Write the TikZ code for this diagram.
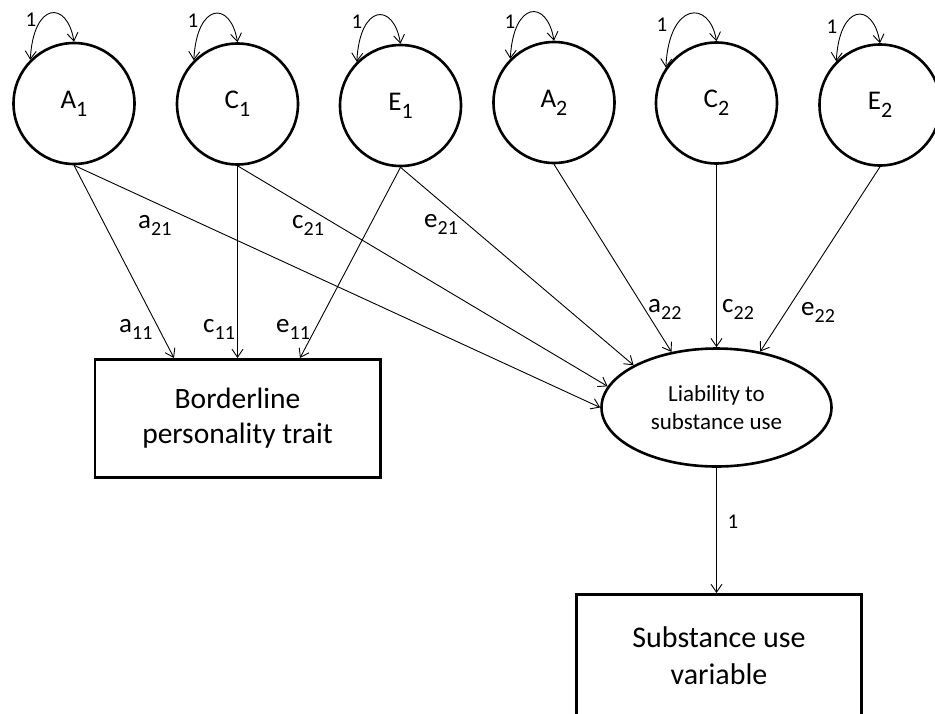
\documentclass[tikz,border=0pt]{standalone}
\usepackage{fontspec}
\setmainfont{Carlito}
\usetikzlibrary{arrows.meta,shapes.geometric}
\newcommand\latv[2]{#1\raisebox{-0.3em}{\fontsize{22}{22}\selectfont #2}}
\newcommand\pth[2]{#1\raisebox{-0.28em}{\fontsize{20}{20}\selectfont #2}}
\begin{document}
\begin{tikzpicture}[x=1pt,y=-1pt,
  latent/.style={circle,draw,line width=2.6pt,minimum size=121pt,inner sep=0pt,font=\fontsize{27}{27}\selectfont},
  obs/.style={rectangle,draw,line width=2.6pt,inner sep=0pt,align=center,minimum width=285.4pt,font=\fontsize{29.5}{35}\selectfont},
  liab/.style={ellipse,draw,line width=2.6pt,inner sep=0pt,align=center,minimum width=230pt,minimum height=118pt,font=\fontsize{23}{28}\selectfont},
  pathar/.style={-{Straight Barb[length=8pt,width=11pt]},line width=0.9pt},
  varar/.style={{Straight Barb[length=8pt,width=11pt]}-{Straight Barb[length=8pt,width=11pt]},line width=0.9pt},
  coef/.style={anchor=base west,inner sep=0pt,font=\fontsize{27}{27}\selectfont},
  one/.style={inner sep=0pt,font=\fontsize{21}{21}\selectfont}
]
\useasboundingbox (0,0) rectangle (935,713);
% latent factors
\node[latent] (A1) at (74,103.5) {\latv{A}{1}};
\node[latent] (C1) at (237.5,104) {\latv{C}{1}};
\node[latent] (E1) at (400.5,105.5) {\latv{E}{1}};
\node[latent] (A2) at (554,102.5) {\latv{A}{2}};
\node[latent] (C2) at (716.5,103) {\latv{C}{2}};
\node[latent] (E2) at (880,105) {\latv{E}{2}};
% variance loops
\foreach \n in {A1,C1,E1,A2,E2}{
  \draw[varar] (\n.135) .. controls +(3,-58) and +(-7,-42) .. (\n.90);
}
\draw[varar] (C2.145) .. controls +(3,-66) and +(-7,-42) .. (C2.90);
\node[one] (vA1) at (31,20) {1};
\node[one] (vC1) at (193,21) {1};
\node[one] (vE1) at (357,22) {1};
\node[one] (vA2) at (510,22) {1};
\node[one] (vC2) at (662,25) {1};
\node[one] (vE2) at (832,27) {1};
% observed and liability
\node[obs,minimum height=118.4pt] (B) at (237.5,418.5) {Borderline\\personality trait};
\node[liab] (L) at (716.5,407.5) {Liability to\\substance use};
\node[obs,minimum height=128pt,font=\fontsize{30}{37}\selectfont] (S) at (719,658.3)
  {\raisebox{4pt}{\begin{tabular}{@{}c@{}}Substance use\\variable\end{tabular}}};
% paths to borderline
\draw[pathar] (A1.south) -- ([xshift=-63.5pt]B.north);
\draw[pathar] (C1.south) -- (B.north);
\draw[pathar] (E1.south) -- ([xshift=62.5pt]B.north);
% paths to liability
\draw[pathar] (A1.south) -- (L.180);
\draw[pathar] (C1.south) -- (L.169.8);
\draw[pathar] (E1.south) -- (L.153);
\draw[pathar] (A2.south) -- (L.129);
\draw[pathar] (C2.south) -- (L.90);
\draw[pathar] (E2.south) -- (L.52);
\draw[pathar] (L.south) -- (L.south |- S.north);
% coefficient labels
\node[coef] (la21) at (138,228) {\pth{a}{21}};
\node[coef] (lc21) at (292,228) {\pth{c}{21}};
\node[coef] (le21) at (424,227) {\pth{e}{21}};
\node[coef] (la11) at (119,332) {\pth{a}{11}};
\node[coef] (lc11) at (203,332) {\pth{c}{11}};
\node[coef] (le11) at (276,332) {\pth{e}{11}};
\node[coef] (la22) at (648,312) {\pth{a}{22}};
\node[coef] (lc22) at (722,312) {\pth{c}{22}};
\node[coef] (le22) at (801,315) {\pth{e}{22}};
\node[one] (l1) at (733,522) {1};
\end{tikzpicture}
\end{document}
